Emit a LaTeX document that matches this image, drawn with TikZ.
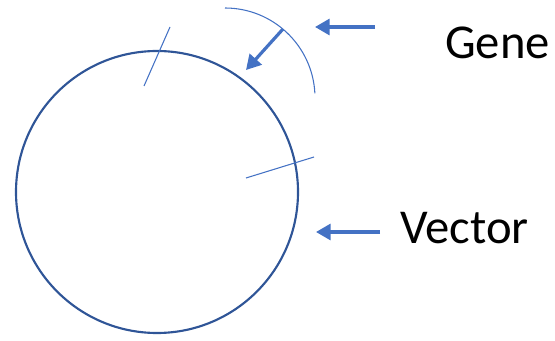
\documentclass[tikz,border=0pt]{standalone}
\usepackage{fontspec}
\setmainfont{Carlito}
\usetikzlibrary{arrows.meta,positioning,calc}
\definecolor{vonal}{HTML}{4472C4}
\definecolor{kor}{HTML}{2F5597}
\tikzset{
  plazmid/.style={draw=kor,line width=1.6pt},
  vagas/.style={draw=vonal,line width=0.8pt},
  nyil/.style={draw=vonal,line width=2.4pt,-{Triangle[length=11pt,width=12pt]}},
  cimke/.style={font=\fontsize{36.5}{40}\selectfont,inner sep=0pt,anchor=base west},
}
\begin{document}
\begin{tikzpicture}[x=0.75pt,y=-0.75pt]
  \useasboundingbox (0,0) rectangle (555,341);
  % vektor
  \draw[plazmid] (157,192) circle[radius=141*0.75pt];
  \draw[vagas] (170,27) -- (144,86);
  \draw[vagas] (246,178) -- (314,157);
  % gen
  \draw[vagas] (225,8) arc[start angle=90,end angle=3,radius=90*0.75pt];
  \coordinate (g1) at (283,29);
  \coordinate (g2) at (246,70);
  \draw[nyil] (g1) -- (g2);
  % cimkek
  \node[cimke] (gene) at (445,59) {Gene};
  \node[cimke] (vector) at (400,244) {Vector};
  \coordinate (ga) at (375,27);
  \coordinate (gb) at (315,27);
  \coordinate (va) at (380,232);
  \coordinate (vb) at (316,232);
  \draw[nyil] (ga) -- (gb);
  \draw[nyil] (va) -- (vb);
\end{tikzpicture}
\end{document}
